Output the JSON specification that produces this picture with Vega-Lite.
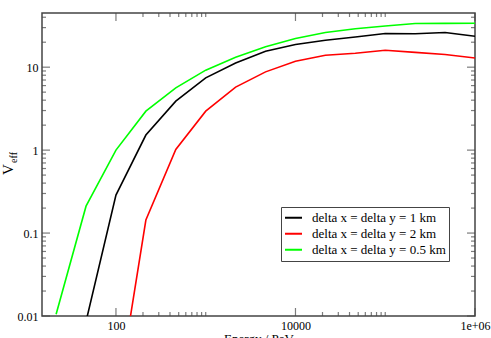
{
  "$schema": "https://vega.github.io/schema/vega-lite/v6.json",
  "width": 433,
  "height": 303,
  "autosize": {"type": "none"},
  "padding": {"left": 42, "top": 13, "right": 16, "bottom": 22},
  "background": "white",
  "title": {"text": "depth = 200m, delta z = 60m, 4x4 array", "font": "Liberation Serif", "fontSize": 13, "fontWeight": "normal", "baseline": "alphabetic", "frame": "group", "offset": 8.5, "dy": 2, "color": "black"},
  "config": {
    "view": {"stroke": "#444", "strokeWidth": 1.5},
    "axis": {"grid": false, "domain": false, "ticks": false, "labelFont": "Liberation Serif", "titleFont": "Liberation Serif", "labelFontSize": 12, "titleFontSize": 13, "titleFontWeight": "normal", "labelColor": "black", "titleColor": "black", "labelOverlap": false, "labelFlush": false, "labelBound": false},
    "tick": {"color": "#444", "thickness": 1.2}
  },
  "datasets": {
    "curves": [
      {"E": 46.416, "V": 0.0086, "series": "delta x = delta y = 1 km"},
      {"E": 100, "V": 0.287, "series": "delta x = delta y = 1 km"},
      {"E": 215.44, "V": 1.52, "series": "delta x = delta y = 1 km"},
      {"E": 464.16, "V": 3.89, "series": "delta x = delta y = 1 km"},
      {"E": 1000, "V": 7.43, "series": "delta x = delta y = 1 km"},
      {"E": 2154.4, "V": 11.2, "series": "delta x = delta y = 1 km"},
      {"E": 4641.6, "V": 15.6, "series": "delta x = delta y = 1 km"},
      {"E": 10000, "V": 18.8, "series": "delta x = delta y = 1 km"},
      {"E": 21544, "V": 21.1, "series": "delta x = delta y = 1 km"},
      {"E": 46416, "V": 23.1, "series": "delta x = delta y = 1 km"},
      {"E": 100000, "V": 25.5, "series": "delta x = delta y = 1 km"},
      {"E": 215443, "V": 25.3, "series": "delta x = delta y = 1 km"},
      {"E": 464159, "V": 26.2, "series": "delta x = delta y = 1 km"},
      {"E": 1000000, "V": 23.6, "series": "delta x = delta y = 1 km"},
      {"E": 100, "V": 0.0008, "series": "delta x = delta y = 2 km"},
      {"E": 215.44, "V": 0.1435, "series": "delta x = delta y = 2 km"},
      {"E": 464.16, "V": 1.02, "series": "delta x = delta y = 2 km"},
      {"E": 1000, "V": 2.95, "series": "delta x = delta y = 2 km"},
      {"E": 2154.4, "V": 5.75, "series": "delta x = delta y = 2 km"},
      {"E": 4641.6, "V": 8.78, "series": "delta x = delta y = 2 km"},
      {"E": 10000, "V": 11.8, "series": "delta x = delta y = 2 km"},
      {"E": 21544, "V": 13.95, "series": "delta x = delta y = 2 km"},
      {"E": 46416, "V": 14.7, "series": "delta x = delta y = 2 km"},
      {"E": 100000, "V": 16.0, "series": "delta x = delta y = 2 km"},
      {"E": 215443, "V": 15.1, "series": "delta x = delta y = 2 km"},
      {"E": 464159, "V": 14.2, "series": "delta x = delta y = 2 km"},
      {"E": 1000000, "V": 12.9, "series": "delta x = delta y = 2 km"},
      {"E": 21.544, "V": 0.0105, "series": "delta x = delta y = 0.5 km"},
      {"E": 46.416, "V": 0.211, "series": "delta x = delta y = 0.5 km"},
      {"E": 100, "V": 1.0, "series": "delta x = delta y = 0.5 km"},
      {"E": 215.44, "V": 2.95, "series": "delta x = delta y = 0.5 km"},
      {"E": 464.16, "V": 5.64, "series": "delta x = delta y = 0.5 km"},
      {"E": 1000, "V": 9.2, "series": "delta x = delta y = 0.5 km"},
      {"E": 2154.4, "V": 13.2, "series": "delta x = delta y = 0.5 km"},
      {"E": 4641.6, "V": 17.6, "series": "delta x = delta y = 0.5 km"},
      {"E": 10000, "V": 22.2, "series": "delta x = delta y = 0.5 km"},
      {"E": 21544, "V": 26.2, "series": "delta x = delta y = 0.5 km"},
      {"E": 46416, "V": 29.0, "series": "delta x = delta y = 0.5 km"},
      {"E": 100000, "V": 31.3, "series": "delta x = delta y = 0.5 km"},
      {"E": 215443, "V": 33.6, "series": "delta x = delta y = 0.5 km"},
      {"E": 464159, "V": 33.7, "series": "delta x = delta y = 0.5 km"},
      {"E": 1000000, "V": 33.8, "series": "delta x = delta y = 0.5 km"}
    ],
    "xmajor": [{"E": 100}, {"E": 10000}, {"E": 1000000}],
    "xminor": [{"E": 200}, {"E": 300}, {"E": 400}, {"E": 500}, {"E": 600}, {"E": 700}, {"E": 800}, {"E": 900}, {"E": 1000}, {"E": 20000}, {"E": 30000}, {"E": 40000}, {"E": 50000}, {"E": 60000}, {"E": 70000}, {"E": 80000}, {"E": 90000}, {"E": 100000}],
    "ymajor": [{"V": 0.01}, {"V": 0.1}, {"V": 1}, {"V": 10}],
    "yminor": [{"V": 0.02}, {"V": 0.03}, {"V": 0.04}, {"V": 0.05}, {"V": 0.06}, {"V": 0.07}, {"V": 0.08}, {"V": 0.09}, {"V": 0.2}, {"V": 0.3}, {"V": 0.4}, {"V": 0.5}, {"V": 0.6}, {"V": 0.7}, {"V": 0.8}, {"V": 0.9}, {"V": 2}, {"V": 3}, {"V": 4}, {"V": 5}, {"V": 6}, {"V": 7}, {"V": 8}, {"V": 9}, {"V": 20}, {"V": 30}, {"V": 40}]
  },
  "layer": [
    {
      "data": {"name": "curves"},
      "mark": {"type": "line", "strokeWidth": 1.6, "clip": true},
      "encoding": {
        "x": {"field": "E", "type": "quantitative", "scale": {"type": "log", "domain": [15, 1000000], "nice": false},
          "axis": {"orient": "bottom", "title": "Energy / PeV", "titlePadding": 1,
            "values": [100, 10000, 1000000],
            "labelExpr": "datum.value == 1000000 ? '1e+06' : '' + datum.value",
            "labelPadding": 4}},
        "y": {"field": "V", "type": "quantitative", "scale": {"type": "log", "domain": [0.01, 45], "nice": false},
          "axis": {"orient": "left", "title": "V", "titleX": -30, "titleY": 156, "titleAlign": "center", "titleBaseline": "alphabetic", "titleAngle": -90, "titleFontSize": 15,
            "values": [0.01, 0.1, 1, 10],
            "labelExpr": "'' + datum.value",
            "labelPadding": 4}},
        "color": {"field": "series", "type": "nominal",
          "scale": {"domain": ["delta x = delta y = 1 km", "delta x = delta y = 2 km", "delta x = delta y = 0.5 km"], "range": ["#000000", "#ff0000", "#00ff00"]},
          "legend": {"orient": "none", "legendX": 239, "legendY": 194, "title": null, "labelFont": "Liberation Serif", "labelFontSize": 13, "labelColor": "black", "symbolType": "stroke", "symbolSize": 289, "symbolStrokeWidth": 2, "strokeColor": "#444", "fillColor": "white", "padding": 3, "rowPadding": 0, "clipHeight": 15.5, "labelOffset": 9, "labelLimit": 300}}
      }
    },
    {
      "data": {"name": "curves"},
      "mark": {"type": "line", "opacity": 0, "clip": true},
      "encoding": {
        "x": {"field": "E", "type": "quantitative", "axis": null},
        "y": {"field": "V", "type": "quantitative",
          "axis": {"orient": "left", "title": "eff", "labels": false, "titleX": -26, "titleY": 144, "titleAlign": "center", "titleBaseline": "alphabetic", "titleAngle": -90, "titleFontSize": 10}},
        "detail": {"field": "series", "type": "nominal"}
      }
    },
    {
      "data": {"name": "xmajor"},
      "mark": {"type": "tick", "orient": "vertical", "size": 8, "yOffset": -4},
      "encoding": {"x": {"field": "E", "type": "quantitative", "axis": null}, "y": {"datum": 0.01, "type": "quantitative", "axis": null}}
    },
    {
      "data": {"name": "xmajor"},
      "mark": {"type": "tick", "orient": "vertical", "size": 8, "yOffset": 4},
      "encoding": {"x": {"field": "E", "type": "quantitative", "axis": null}, "y": {"datum": 45, "type": "quantitative", "axis": null}}
    },
    {
      "data": {"name": "xminor"},
      "mark": {"type": "tick", "orient": "vertical", "size": 4, "yOffset": -2},
      "encoding": {"x": {"field": "E", "type": "quantitative", "axis": null}, "y": {"datum": 0.01, "type": "quantitative", "axis": null}}
    },
    {
      "data": {"name": "xminor"},
      "mark": {"type": "tick", "orient": "vertical", "size": 4, "yOffset": 2},
      "encoding": {"x": {"field": "E", "type": "quantitative", "axis": null}, "y": {"datum": 45, "type": "quantitative", "axis": null}}
    },
    {
      "data": {"name": "ymajor"},
      "mark": {"type": "tick", "orient": "horizontal", "size": 8, "xOffset": 4},
      "encoding": {"y": {"field": "V", "type": "quantitative", "axis": null}, "x": {"datum": 15, "type": "quantitative", "axis": null}}
    },
    {
      "data": {"name": "ymajor"},
      "mark": {"type": "tick", "orient": "horizontal", "size": 8, "xOffset": -4},
      "encoding": {"y": {"field": "V", "type": "quantitative", "axis": null}, "x": {"datum": 1000000, "type": "quantitative", "axis": null}}
    },
    {
      "data": {"name": "yminor"},
      "mark": {"type": "tick", "orient": "horizontal", "size": 4, "xOffset": 2},
      "encoding": {"y": {"field": "V", "type": "quantitative", "axis": null}, "x": {"datum": 15, "type": "quantitative", "axis": null}}
    },
    {
      "data": {"name": "yminor"},
      "mark": {"type": "tick", "orient": "horizontal", "size": 4, "xOffset": -2},
      "encoding": {"y": {"field": "V", "type": "quantitative", "axis": null}, "x": {"datum": 1000000, "type": "quantitative", "axis": null}}
    }
  ],
  "resolve": {"axis": {"x": "independent", "y": "independent"}}
}
